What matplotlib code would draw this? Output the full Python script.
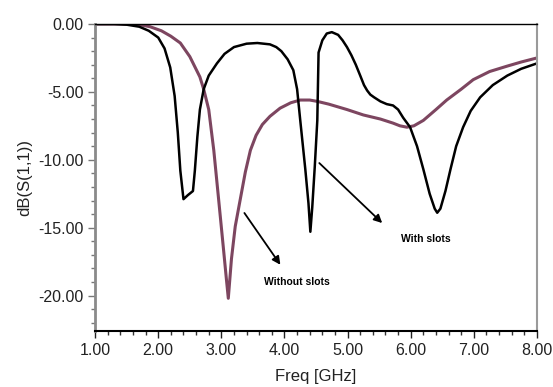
import matplotlib
matplotlib.use("Agg")
import matplotlib.pyplot as plt
from matplotlib.ticker import MultipleLocator, FormatStrFormatter

plt.rcParams["font.family"] = ["Liberation Sans Narrow", "Liberation Sans", "DejaVu Sans"]

# ── 数据：With slots（黑色）──
freq_with = [1.00, 1.30, 1.50, 1.70, 1.85, 2.00, 2.10, 2.19, 2.26, 2.31, 2.35, 2.40,
             2.47, 2.55, 2.58, 2.62, 2.66, 2.72, 2.80, 2.93, 3.05, 3.20, 3.40, 3.57,
             3.77, 3.87, 3.95, 4.05, 4.14, 4.20, 4.25, 4.33, 4.38, 4.41, 4.44, 4.48,
             4.52, 4.54, 4.60, 4.67, 4.75, 4.85, 4.92, 4.99, 5.06, 5.13, 5.20, 5.26,
             5.31, 5.36, 5.42, 5.52, 5.62, 5.72, 5.80, 5.88, 5.99, 6.10, 6.20, 6.30,
             6.38, 6.42, 6.47, 6.55, 6.63, 6.72, 6.83, 6.95, 7.10, 7.30, 7.53, 7.75,
             8.00]
db_with = [0.0, 0.0, -0.05, -0.2, -0.5, -1.0, -1.8, -3.2, -5.3, -8.0, -10.8, -12.9,
           -12.6, -12.3, -10.8, -8.3, -6.3, -4.8, -3.8, -2.9, -2.2, -1.7, -1.45, -1.4,
           -1.5, -1.7, -2.0, -2.6, -3.4, -4.8, -7.1, -10.7, -13.2, -15.3, -13.5, -10.5,
           -7.1, -2.1, -1.2, -0.7, -0.6, -0.8, -1.2, -1.7, -2.3, -3.0, -3.8, -4.5,
           -4.9, -5.2, -5.4, -5.7, -5.9, -6.0, -6.3, -6.9, -7.6, -9.0, -10.7, -12.5,
           -13.6, -13.9, -13.6, -12.3, -10.7, -9.0, -7.6, -6.4, -5.4, -4.5, -3.8, -3.3,
           -2.9]

# ── 数据：Without slots（紫红色）──
freq_without = [1.00, 1.40, 1.70, 1.87, 2.05, 2.20, 2.35, 2.50, 2.66, 2.72, 2.80, 2.88,
                2.95, 3.03, 3.08, 3.11, 3.16, 3.22, 3.30, 3.38, 3.46, 3.55, 3.65, 3.77,
                3.93, 4.10, 4.25, 4.40, 4.52, 4.70, 4.99, 5.25, 5.52, 5.72, 5.83, 5.94,
                6.05, 6.20, 6.40, 6.57, 6.80, 6.99, 7.25, 7.53, 7.75, 8.00]
db_without = [0.0, 0.0, -0.05, -0.2, -0.5, -0.9, -1.4, -2.4, -3.9, -4.8, -6.3, -9.3,
              -12.6, -16.4, -18.8, -20.2, -17.3, -14.9, -12.9, -10.9, -9.3, -8.2, -7.4, -6.8,
              -6.2, -5.8, -5.6, -5.6, -5.7, -5.9, -6.3, -6.7, -7.0, -7.3, -7.5, -7.6,
              -7.5, -7.1, -6.3, -5.6, -4.8, -4.1, -3.5, -3.1, -2.8, -2.5]

x_ticks = [1.0, 2.0, 3.0, 4.0, 5.0, 6.0, 7.0, 8.0]
y_ticks = [0.0, -5.0, -10.0, -15.0, -20.0]

fig = plt.figure(figsize=(5.53, 3.87), dpi=100)
ax = fig.add_axes([0.172, 0.145, 0.799, 0.793])

ax.plot(freq_without, db_without, color="#7d4660", linewidth=2.2, solid_joinstyle="round")
ax.plot(freq_with, db_with, color="black", linewidth=1.8, solid_joinstyle="round")

# ── 注释箭头 ──
ax.annotate("", xy=(3.96, -17.9), xytext=(3.34, -13.75),
            arrowprops=dict(arrowstyle="-|>", color="black", lw=1.3, mutation_scale=12))
ax.text(4.20, -18.97, "Without slots", ha="center", va="center",
        fontsize=7.5, fontweight="bold", family=["Liberation Sans", "DejaVu Sans"])
ax.annotate("", xy=(5.58, -14.8), xytext=(4.52, -10.1),
            arrowprops=dict(arrowstyle="-|>", color="black", lw=1.3, mutation_scale=12))
ax.text(6.24, -15.8, "With slots", ha="center", va="center",
        fontsize=7.5, fontweight="bold", family=["Liberation Sans", "DejaVu Sans"])

# ── 坐标轴 ──
ax.set_xlim(1.0, 8.0)
ax.set_ylim(-22.6, 0.0)
ax.set_xticks(x_ticks)
ax.set_yticks(y_ticks)
ax.xaxis.set_minor_locator(MultipleLocator(0.2))
ax.yaxis.set_minor_locator(MultipleLocator(1.0))
ax.xaxis.set_major_formatter(FormatStrFormatter("%.2f"))
ax.yaxis.set_major_formatter(FormatStrFormatter("%.2f"))
ax.tick_params(axis="both", which="major", labelsize=11.5, length=5, width=1, colors="#222222")
ax.tick_params(axis="both", which="minor", length=3, width=1, colors="#333333")
ax.tick_params(axis="y", which="both", color="#777777")

ax.spines["left"].set_color("#8a8a8a")
ax.spines["left"].set_linewidth(2.0)
ax.spines["bottom"].set_color("black")
ax.spines["bottom"].set_linewidth(1.5)
ax.spines["top"].set_color("black")
ax.spines["top"].set_linewidth(1.0)
ax.spines["right"].set_color("#9a9a9a")
ax.spines["right"].set_linewidth(1.5)

ax.set_xlabel("Freq [GHz]", fontsize=12, labelpad=8, color="#222222")
ax.set_ylabel("dB(S(1,1))", fontsize=12, labelpad=4, color="#222222")

fig.savefig("out.png", dpi=100)
